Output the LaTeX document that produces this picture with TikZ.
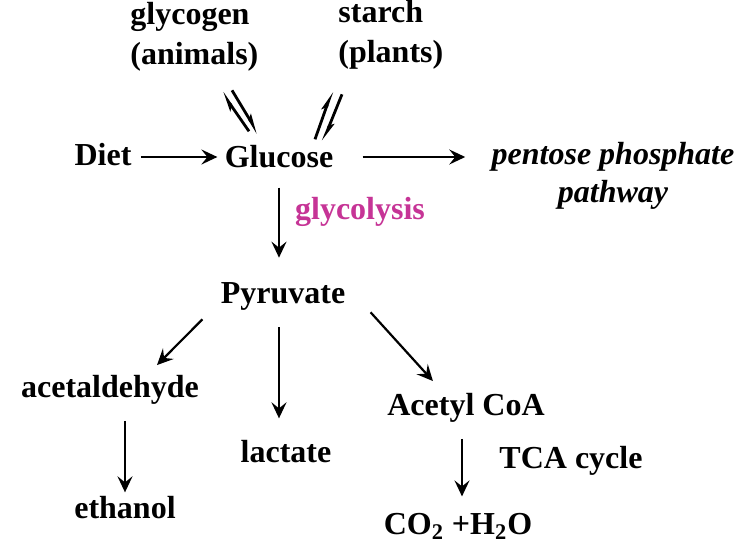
\documentclass[tikz,border=0pt]{standalone}
\usepackage{fontspec}
\setmainfont{Liberation Serif}
\usetikzlibrary{arrows.meta,calc}
\definecolor{glycopink}{RGB}{198,52,150}
\begin{document}
\begin{tikzpicture}[
        x=0.5pt, y=-0.5pt,
        every node/.style={font=\bfseries\fontsize{16}{17.5}\selectfont, inner sep=0pt, align=center},
        source/.style={anchor=north west, align=left, font=\bfseries\fontsize{16}{20}\selectfont},
        pathway/.style={font=\bfseries\itshape\fontsize{16}{19}\selectfont},
        arr/.style={draw, line width=1.1pt, -{Stealth[length=8pt,width=7.5pt,inset=3pt]}},
        eq/.style={draw, line width=1.4pt, -{Stealth[harpoon,length=7.5pt,width=4pt,inset=1.5pt]}},
    ]
    \useasboundingbox (0,0) rectangle (746,558);
    \node[source] (glycogen) at (130,2) {glycogen\\(animals)};
    \node[source] (starch) at (338,0) {starch\\(plants)};
    \node (diet) at (103,155) {Diet};
    \node (glucose) at (279,157) {Glucose};
    \node[pathway] (pentose) at (613,176) {pentose phosphate\\pathway};
    \node[text=glycopink] (glycolysis) at (360,212) {glycolysis};
    \node (pyruvate) at (283,296) {Pyruvate};
    \node (acetaldehyde) at (110,390) {acetaldehyde};
    \node (lactate) at (286,452) {lactate};
    \node (acetyl) at (466,408) {Acetyl CoA};
    \node (tca) at (571,461) {TCA cycle};
    \node (ethanol) at (125,508) {ethanol};
    \node (water) at (458,526) {CO\textsubscript{2} +H\textsubscript{2}O};

    \draw[eq] ($(glucose.north)+(-30,-14)$) -- ($(glucose.north)+(-57,-53)$);
    \draw[eq] ($(glucose.north)+(-47,-55)$) -- ($(glucose.north)+(-21,-12)$);
    \draw[eq] ($(glucose.north)+(36,-6)$) -- ($(glucose.north)+(53,-54)$);
    \draw[eq] ($(glucose.north)+(63,-51)$) -- ($(glucose.north)+(44,-4)$);

    \draw[arr] ($(diet.east)+(9,2)$) -- ($(glucose.west)+(-7,0)$);
    \draw[arr] ($(glucose.east)+(29,0)$) -- ($(glucose.east -| pentose.west)+(-26,0)$);
    \draw[arr] (glucose.south) ++(0,19) -- ($(glucose.south |- pyruvate.north)+(0,-24)$);
    \draw[arr] ($(pyruvate.south west)+(-18,9)$) -- ($(acetaldehyde.north)+(47,-10)$);
    \draw[arr] ($(pyruvate.south)+(-4,17)$) -- ($(pyruvate.south |- lactate.north)+(-4,-22)$);
    \draw[arr] ($(pyruvate.south east)+(25,2)$) -- ($(acetyl.north west)+(46,-12)$);
    \draw[arr] ($(acetaldehyde.south)+(15,16)$) -- ($(acetaldehyde.south |- ethanol.north)+(15,-4)$);
    \draw[arr] ($(acetyl.south)+(-4,16)$) -- ($(acetyl.south |- water.north)+(-4,-16)$);
\end{tikzpicture}
\end{document}
